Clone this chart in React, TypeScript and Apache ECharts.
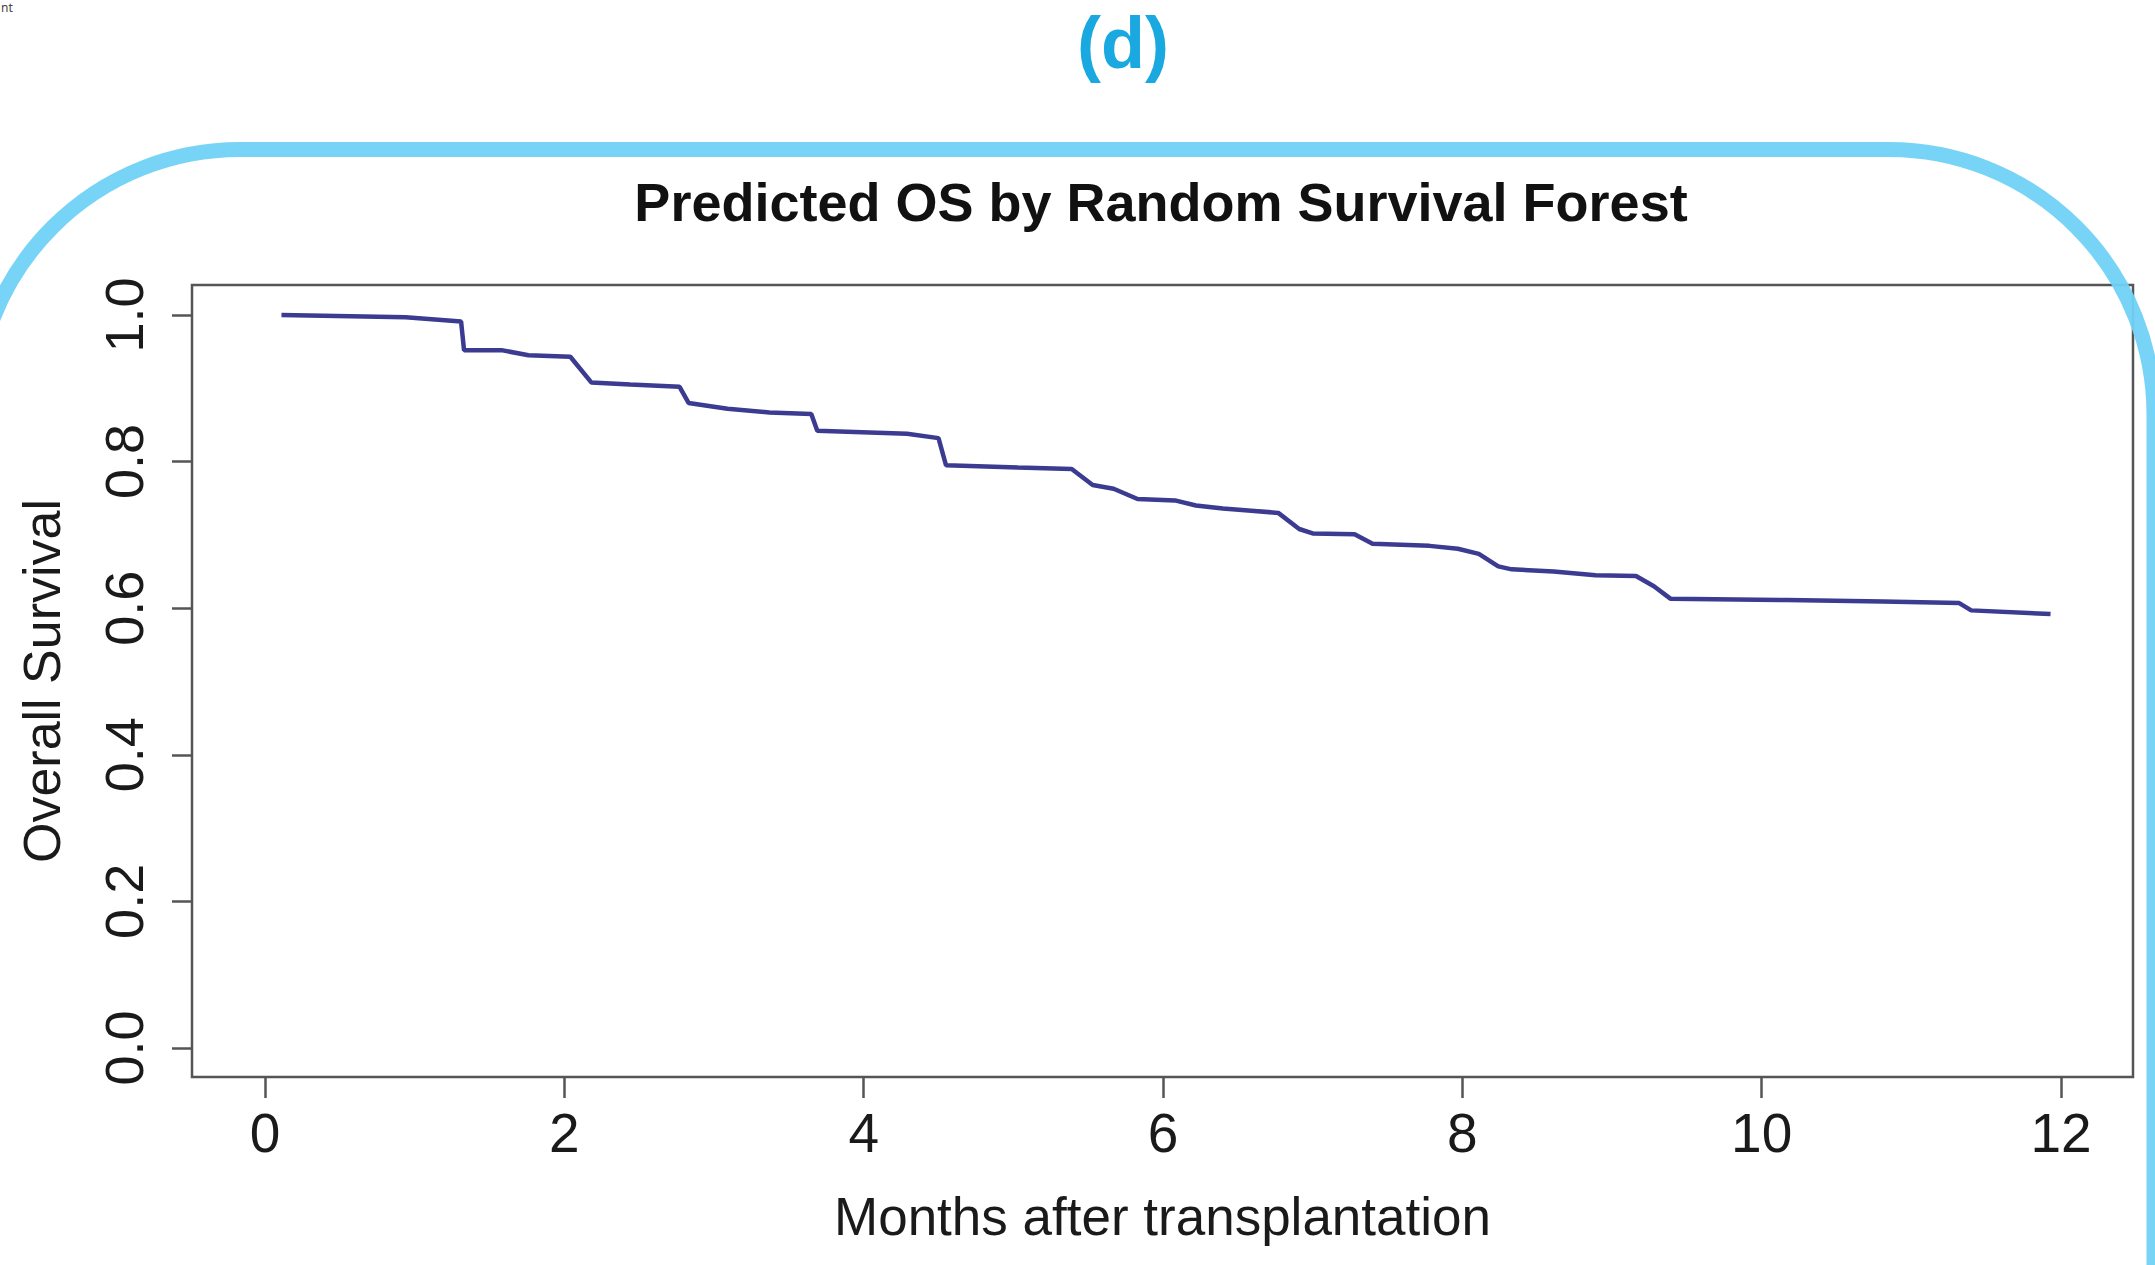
import React, { useEffect, useRef } from "react";
import * as echarts from "echarts";

// Data (months, predicted overall survival)
const months = [
  0.11, 0.94, 1.31, 1.33, 1.58, 1.76, 2.04, 2.18, 2.44, 2.77, 2.83, 3.09, 3.37, 3.65, 3.69,
  4.29, 4.5, 4.55, 5.03, 5.39, 5.53, 5.67, 5.83, 6.08, 6.22, 6.4, 6.59, 6.77, 6.91, 7.0,
  7.28, 7.4, 7.78, 7.97, 8.11, 8.24, 8.33, 8.61, 8.89, 9.16, 9.28, 9.39, 10.17, 10.81,
  11.32, 11.4, 11.93,
];
const survival = [
  1.0, 0.997, 0.991, 0.952, 0.952, 0.945, 0.943, 0.908, 0.905, 0.902, 0.88, 0.872, 0.867,
  0.865, 0.842, 0.838, 0.832, 0.795, 0.792, 0.79, 0.768, 0.763, 0.749, 0.747, 0.74, 0.736,
  0.733, 0.73, 0.708, 0.702, 0.701, 0.688, 0.685, 0.681, 0.674, 0.657, 0.653, 0.65, 0.645,
  0.644, 0.63, 0.613, 0.611, 0.609, 0.607, 0.597, 0.592,
];
const xTicks = [0, 2, 4, 6, 8, 10, 12];
const yTicks = [0, 0.2, 0.4, 0.6, 0.8, 1.0];

const panelLabel = "(d)";
const chartTitle = "Predicted OS by Random Survival Forest";
const xTitle = "Months after transplantation";
const yTitle = "Overall Survival";

export default function App() {
  const ref = useRef<HTMLDivElement>(null);

  useEffect(() => {
    if (!ref.current) return;
    const chart = echarts.init(ref.current, null, { renderer: "svg" });
    const font = "'Liberation Sans', Arial, Helvetica, sans-serif";
    const option: any = {
      animation: false,
      backgroundColor: "#ffffff",
      title: {
        text: chartTitle,
        left: 1161,
        top: 175,
        padding: 0,
        textAlign: "center",
        textStyle: { fontFamily: font, fontSize: 54, fontWeight: "bold", color: "#111111" },
      },
      grid: {
        left: 192,
        top: 285,
        width: 1941,
        height: 792,
        show: true,
        borderColor: "#555555",
        borderWidth: 2.5,
        backgroundColor: "transparent",
      },
      xAxis: {
        type: "value",
        min: -0.4878,
        max: 12.481,
        splitLine: { show: false },
        axisLine: { show: false, onZero: false },
        axisTick: {
          show: true,
          inside: false,
          customValues: xTicks,
          length: 21,
          lineStyle: { color: "#555555", width: 2.5 },
        },
        axisLabel: {
          customValues: xTicks,
          margin: 28,
          fontFamily: font,
          fontSize: 55,
          color: "#1a1a1a",
        },
        name: xTitle,
        nameLocation: "middle",
        nameGap: 113,
        nameTextStyle: { fontFamily: font, fontSize: 53, color: "#1a1a1a" },
      },
      yAxis: {
        type: "value",
        min: -0.0396,
        max: 1.0409,
        splitLine: { show: false },
        axisLine: { show: false, onZero: false },
        axisTick: {
          show: true,
          inside: false,
          customValues: yTicks,
          length: 20,
          lineStyle: { color: "#555555", width: 2.5 },
        },
        axisLabel: {
          customValues: yTicks,
          rotate: 90,
          margin: 41,
          fontFamily: font,
          fontSize: 54,
          color: "#1a1a1a",
          formatter: (v: number) => v.toFixed(1),
        },
        name: yTitle,
        nameLocation: "middle",
        nameGap: 124,
        nameTextStyle: { fontFamily: font, fontSize: 52, color: "#1a1a1a" },
      },
      series: [
        {
          type: "line",
          data: months.map((m, i) => [m, survival[i]]),
          showSymbol: false,
          symbol: "none",
          lineStyle: { color: "#3b3b92", width: 4.5 },
          z: 3,
        },
      ],
      graphic: [
        {
          type: "rect",
          shape: { x: -25, y: 149.5, width: 2179, height: 1500, r: 265 },
          style: { fill: "none", stroke: "#70d2f6", lineWidth: 15, opacity: 0.95 },
          z: 100,
        },
        {
          type: "text",
          x: 1123,
          y: 43,
          style: {
            text: panelLabel,
            fontFamily: font,
            fontSize: 72,
            fontWeight: "bold",
            fill: "#19a8e0",
            align: "center",
            verticalAlign: "middle",
          },
          z: 100,
        },
        {
          type: "text",
          x: 1,
          y: 1,
          style: {
            text: "nt",
            fontFamily: "'Noto Sans', sans-serif",
            fontSize: 12,
            fill: "#444444",
            align: "left",
            verticalAlign: "top",
          },
          z: 100,
        },
      ],
    };
    chart.setOption(option);
    return () => chart.dispose();
  }, []);

  return (
    <div
      ref={ref}
      style={{ position: "absolute", left: 0, top: 0, width: 2155, height: 1265 }}
    />
  );
}
